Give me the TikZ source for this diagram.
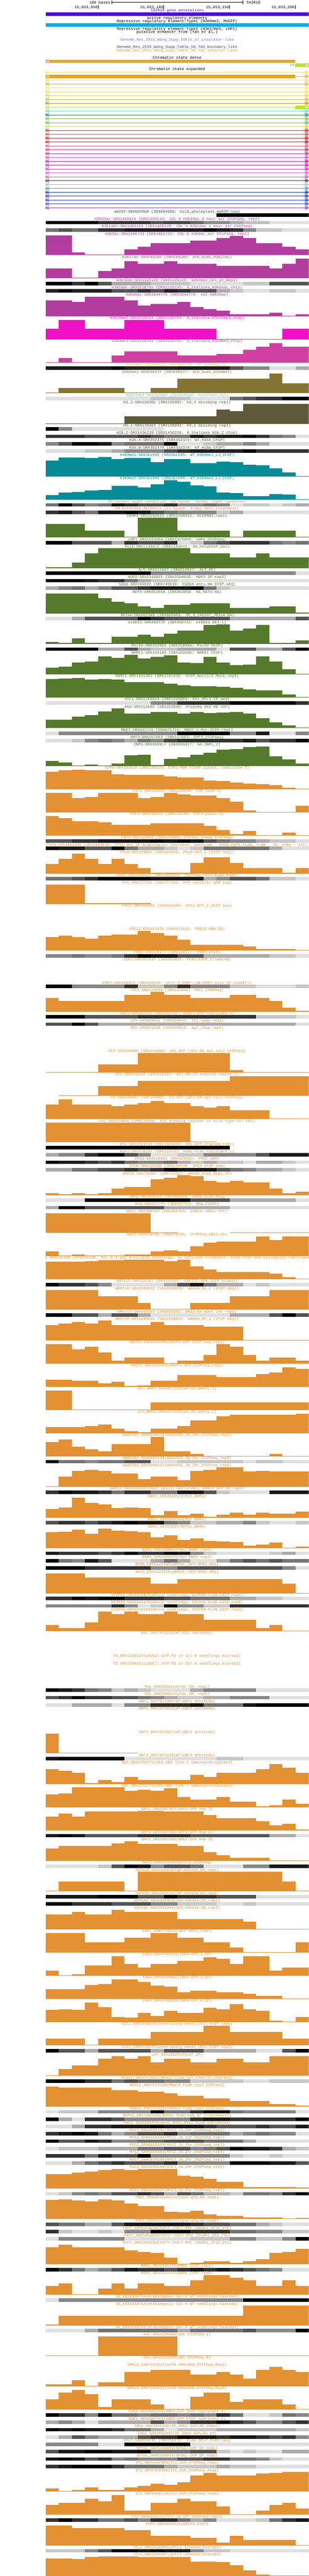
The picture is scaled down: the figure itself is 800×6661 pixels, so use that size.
\documentclass[tikz,border=0pt]{standalone}
\usepackage{fontspec}
\usepackage{xcolor}
\newfontfamily\trackfont{Liberation Mono}
\newcommand\lblfont{\trackfont\fontsize{5}{6}\selectfont}
\definecolor{tairc}{HTML}{4B0BDB}
\definecolor{regc}{HTML}{00AEEF}
\definecolor{insc}{HTML}{7B6CF0}
\definecolor{tadbc}{HTML}{483D8B}
\definecolor{tadic}{HTML}{DAA520}
\definecolor{csorange}{HTML}{E9A618}
\definecolor{csgreen}{HTML}{C0E02A}
\definecolor{cslbl}{HTML}{8FA010}
\definecolor{mdc}{HTML}{36524A}
\definecolor{acc}{HTML}{B33D9F}
\definecolor{k36c}{HTML}{F010C8}
\definecolor{k4c}{HTML}{D040A0}
\definecolor{k4me2c}{HTML}{D8D830}
\definecolor{k4me1c}{HTML}{857535}
\definecolor{k27c}{HTML}{80C8C0}
\definecolor{h3c}{HTML}{5F5A3A}
\definecolor{k9c}{HTML}{058C96}
\definecolor{dhc}{HTML}{FF7F50}
\definecolor{tfgc}{HTML}{567A2B}
\definecolor{tfoc}{HTML}{E39132}
\tikzset{
  lbl/.style={font=\lblfont, inner sep=0pt, anchor=base},
  every picture/.style={x=0.5pt, y=-0.5pt, line width=0.5pt}
}
\newcount\trkno
\def\trky{547}
\newcommand\dtrack[3]{%
  \global\advance\trkno by 1
  \node[lbl,text=#2] (trk\the\trkno) at (459,{\trky+3.5}) {#1};
  \foreach \v [count=\i from 0] in {#3}{%
    \ifnum\v>0 \fill[black!\v] ({118+\i*34.1},{\trky+5}) rectangle ({118+(\i+1)*34.1},{\trky+14});\fi
  }%
  \pgfmathsetmacro\nexty{\trky+19}\xdef\trky{\nexty}%
}
\newcommand\gtrack[3]{%
  \global\advance\trkno by 1
  \node[lbl,text=#2] (trk\the\trkno) at (459,{\trky+3.5}) {#1};
  \foreach \v [count=\i from 0] in {#3}{%
    \ifnum\v>0 \fill[#2] ({118+\i*34.1},{\trky+56}) rectangle ({118+(\i+1)*34.1},{\trky+56-0.51*\v});\fi
  }%
  \pgfmathsetmacro\nexty{\trky+60}\xdef\trky{\nexty}%
}
\begin{document}
\begin{tikzpicture}
\useasboundingbox (0,0) rectangle (800,6661);
\fill[white] (0,0) rectangle (800,6661);
\begin{scope}
\clip (118,0) rectangle (800,6661);
\node[lbl,anchor=base east] (scalelbl) at (286,9.5) {100 bases};
\draw (289,6) -- (629,6);
\draw (289,1) -- (289,11);
\draw (629,1) -- (629,11);
\node[lbl,anchor=base west] (asm) at (638,9.5) {TAIR10};
\foreach \p/\x in {050/254.4, 100/424.5, 150/595.1, 200/764.7}{
  \node[lbl,anchor=base east] (pos\p) at (\x-1,21.5) {15,653,\p};
  \draw (\x,13) -- (\x,23);
}
\node[lbl,text=tairc] (tairlbl) at (459,30.5) {TAIR10 gene annotations};
\fill[tairc] (118,32) rectangle (800,41);
\node[lbl] (actlbl) at (459,49.5) {active regulatory elements};
\node[lbl] (rep1lbl) at (459,58.5) {Repressive regulatory element-Type1 (H3K9me2, MeDIP)};
\fill[regc] (118,60) rectangle (800,69);
\node[lbl] (rep2lbl) at (459,77.5) {Repressive regulatory element-Type2 (H3K27me3, LHP1)};
\node[lbl] (enhlbl) at (459,86.5) {putative enhancer from (Yan et al.)};
\node[lbl,text=insc] (s7lbl) at (459,105.5) {Genome\_Res\_2015\_Wang\_Supp\_Table\_S7\_insulator-like};
\node[lbl,text=tadbc] (s8lbl) at (459,124.5) {Genome\_Res\_2015\_Wang\_Supp\_Table\_S8\_TAD\_boundary\_like};
\node[lbl,text=tadic] (s9lbl) at (459,133.5) {Genome\_Res\_2015\_Wang\_Supp\_Table\_S9\_TAD\_interior\_like};
\node[lbl] (denselbl) at (459,152.5) {Chromatin state dense};
\fill[csorange] (118,154) rectangle (765,163);
\fill[white] (124,156) -- (120.5,158.5) -- (124,161) -- cycle;
\fill[white] (127.5,156) -- (124,158.5) -- (127.5,161) -- cycle;
\node[lbl,anchor=base east,text=cslbl] (statelbl) at (763,171.5) {10};
\fill[csgreen] (765,164) rectangle (800,173);
\fill[white] (791,166) -- (794.5,168.5) -- (791,171) -- cycle;
\fill[white] (794.5,166) -- (798,168.5) -- (794.5,171) -- cycle;
\node[lbl] (explbl) at (459,181.5) {Chromatin state expanded};
\foreach \hx [count=\k from 0] in {EEE844,E9A618,F0E050,C8B42C,F4F030,F0DC58,DCDC28,D2B03C,B8901C,C4E034,50F0C8,008C64,78C040,48C050,D4E028,F01818,F03838,E00818,D01028,F05080,C03050,B03080,E040C0,D000A0,D010D0,E020E0,EC50F0,C050D0,404040,B0B0B0,20A0E0,0030B0,1030C8,1040D8,4040E0,8040E8}{
  \edef\tmp{\noexpand\definecolor{rowc}{HTML}{\hx}}\tmp
  \pgfmathsetmacro\ry{187+10*\k}
  \draw[rowc] (118,\ry) -- (800,\ry);
  \draw[rowc] (118.5,\ry-4) -- (118.5,\ry+4) (123,\ry-4) -- (119,\ry) -- (123,\ry+4) (127,\ry-4) -- (123,\ry) -- (127,\ry+4);
  \draw[rowc] (791,\ry-4) -- (795,\ry) -- (791,\ry+4) -- cycle (795,\ry-4) -- (799,\ry) -- (795,\ry+4) -- cycle;
}
\fill[csorange] (118,193) rectangle (765,202);
\fill[white] (124,195) -- (120.5,197.5) -- (124,200) -- cycle;
\fill[white] (127.5,195) -- (124,197.5) -- (127.5,200) -- cycle;
\fill[csgreen] (765,273) rectangle (800,282);
\fill[white] (791,275) -- (794.5,277.5) -- (791,280) -- cycle;
\fill[white] (794.5,275) -- (798,277.5) -- (794.5,280) -- cycle;
\dtrack{meDIP-SRX004968 (SRX004968: Col0\_wholeplant\_meDIP-seq)}{mdc}{0,0,0,0,0,0,0,0,0,0,0,0,0,100,100,100,100,100,100,100}
\dtrack{H3K23ac-SRX1469144 (SRX1469144: COL-0 H3K23ac 4 hour air ChIPseq, rep2)}{acc}{100,100,100,100,80,80,80,80,67,73,73,60,45,45,33,25,25,12,12,12}
\dtrack{H3K14ac-SRX1469119 (SRX1469119: COL-0 H3K14ac 4 hour air ChIPseq)}{acc}{55,67,55,55,80,80,87,87,87,87,87,87,100,87,80,47,22,22,12,12}
\gtrack{H3K9ac-SRX1466723 (SRX1466723: COL-0 H3K9ac air ChIPseq, rep1)}{acc}{100,100,15,3,3,3,29,43,60,60,60,73,73,87,98,87,60,60,43,29}
\gtrack{H3K27ac-SRX648280 (SRX648280: Ath\_buds\_H3K27ac)}{acc}{50,50,4,4,39,50,88,75,75,88,75,75,75,63,63,63,63,50,75,100}
\dtrack{H3K36ac-SRX1426149 (SRX1426149: H3K36ac\_Col\_wt\_Rep1)}{acc}{100,100,80,100,67,33,33,33,22,22,22,12,12,12,12,22,22,67,67,67}
\dtrack{H3K56ac-SRX1518745 (SRX1518745: A\_thaliana\_H3K56ac\_chip)}{acc}{87,100,87,87,87,67,67,80,67,87,80,67,67,33,22,12,12,22,22,12}
\gtrack{H4K16ac-SRX1044778 (SRX1044778: Col-H4K16ac)}{acc}{82,82,72,100,100,100,82,54,64,64,72,46,37,28,10,10,10,18,4,10}
\gtrack{H3K36me3-SRX1518744 (SRX1518744: A\_thaliana\_H3K36me3\_chip)}{k36c}{55,100,100,55,55,55,100,100,100,55,55,55,55,4,4,4,4,4,55,55}
\gtrack{H3K4me3-SRX1518741 (SRX1518741: A\_thaliana\_H3K4me3\_chip)}{k4c}{4,23,4,4,4,36,57,57,57,57,36,36,36,46,46,66,80,100,80,80}
\dtrack{H3K4me2-DRX066756 (DRX066756: WT\_H3K4me2\_1)}{k4me2c}{90,90,90,90,90,100,87,87,87,87,90,90,90,90,67,47,47,12,12,33}
\gtrack{H3K4me1-SRX648277 (SRX648277: Ath\_buds\_H3K4me1)}{k4me1c}{4,26,26,26,26,26,4,4,26,26,75,75,75,75,75,75,75,100,52,52}
\dtrack{H3K27me3-SRX853860 (SRX853860: H3K27me3\_Col)}{k27c}{12,12,12,12,12,12,12,12,22,22,22,12,12,12,55,67,80,80,100,100}
\gtrack{H3.3-SRX130301 (SRX130301: H3.3 dividing rep1)}{h3c}{3,3,3,3,3,3,38,38,38,38,38,38,38,73,64,100,100,100,100,100}
\dtrack{H3.1-SRX130303 (SRX130303: H3.1 dividing rep1)}{h3c}{100,47,12,12,12,12,12,12,12,0,0,0,0,0,0,0,0,0,0,0}
\dtrack{H2A.Z-SRX1436239 (SRX1436239: A\_thaliana\_H2A.Z\_chip)}{h3c}{80,80,80,67,67,67,67,80,67,55,55,90,80,90,90,100,80,55,47,12}
\dtrack{H2A.X-SRX352375 (SRX352375: WT\_H2AX\_ChIP)}{h3c}{47,67,100,100,90,47,55,55,55,100,12,12,22,33,33,47,33,12,12,12}
\dtrack{H2A.W-SRX352374 (SRX352374: WT\_H2AW\_ChIP)}{h3c}{12,12,12,22,22,33,47,47,47,67,80,87,87,87,87,100,80,80,80,80}
\gtrack{H3K9me1-SRX361945 (SRX361945: WT\_H3K9me1\_LJ\_ChIP)}{k9c}{81,96,96,94,100,89,94,94,73,89,89,68,68,76,73,60,58,42,21,3}
\gtrack{H3K9me2-SRX361946 (SRX361946: WT\_H3K9me2\_LJ\_ChIP)}{k9c}{22,35,38,46,49,69,71,63,77,100,91,74,67,37,33,19,19,29,27,3}
\dtrack{DH-normal\_light\_condition (in house: normal light conditon)}{dhc}{55,100,67,47,55,90,80,67,67,80,47,47,55,47,12,22,22,12,22,33}
\dtrack{DH-extended\_darkness (in house: 3-day dark treatment)}{dhc}{80,90,67,55,90,90,100,90,67,55,47,47,47,22,33,12,12,12,12,12}
\gtrack{CENH3-SRX2250913 (SRX2250913: AtCENH3\_rep1)}{tfgc}{68,68,68,34,34,34,4,100,100,100,34,34,34,34,4,34,34,34,34,3}
\dtrack{LHP1-SRX1519404 (SRX1519404: LHP1 ChIPseq)}{tfgc}{100,100,67,67,67,33,80,67,67,80,12,22,55,67,80,80,80,55,47,55}
\gtrack{Pol2-SRX1142672 (SRX1142672: 30\_Pol2ChIP\_Col)}{tfgc}{4,4,27,76,100,100,100,100,100,100,100,76,76,76,53,53,76,53,53,53}
\dtrack{AL5-SRX515067 (SRX515067: AL5\_OE)}{tfgc}{100,100,100,100,100,100,100,100,47,47,47,47,47,47,47,47,47,47,47,12}
\dtrack{HDP2-SRX2310526 (SRX2310526: HDP2 IP rep2)}{tfgc}{100,100,100,90,80,80,55,33,22,22,12,12,12,12,12,12,12,12,12,12}
\dtrack{SDG8-SRX749018 (SRX749018: hSDG8 anti-HA ChIP-seq)}{tfgc}{33,47,55,33,47,67,67,80,90,90,90,100,55,22,12,12,12,12,12,12}
\gtrack{REF6-SRX853858 (SRX853858: HA\_REF6-HA)}{tfgc}{100,100,100,100,76,60,52,35,27,44,44,52,52,52,27,27,27,35,35,3}
\dtrack{JMJ14-SRX669383 (SRX669383: ZC\_3\_140207\_JMJ14-HA)}{tfgc}{12,12,33,67,67,67,67,100,80,67,67,67,67,67,33,33,33,33,33,67}
\gtrack{AtDEK3-SRX488722 (SRX488722: AtDEK3 OE3-1)}{tfgc}{9,4,27,4,4,35,35,47,35,52,68,68,95,100,68,79,95,4,4,17}
\dtrack{PolIV-SRX252954 (SRX252954: PolIV ChIP)}{tfgc}{100,100,100,100,33,33,67,33,22,22,33,33,33,12,67,67,33,33,67,100}
\gtrack{NRPE1-SRX159106 (SRX159106: NRPE1 ChIP)}{tfgc}{35,39,60,65,92,84,100,81,88,96,60,57,88,60,47,50,92,65,27,3}
\gtrack{MORC1-SRX1161363 (SRX1161358: ChIP\_morc1/2\_Mock\_rep3)}{tfgc}{95,98,100,93,95,91,79,79,78,70,62,57,58,54,49,41,38,38,17,3}
\dtrack{HYL1-SRX1268024 (SRX1268024: Col\_HYL1\_IP\_seq)}{tfgc}{12,12,12,12,12,12,12,12,47,47,80,80,80,80,100,100,100,100,100,80}
\gtrack{AN3-SRX212080 (SRX212080: Chipseq AN3 HB TAP)}{tfgc}{44,42,60,66,84,100,74,74,81,81,74,81,76,80,81,74,50,31,15,4}
\dtrack{MBD7-SRX621716 (SRX621716: MBD7-5-Myc-ChIP-rep1)}{tfgc}{12,47,47,47,47,47,47,47,47,47,100,100,100,100,47,47,90,12,12,47}
\dtrack{CMT3-SRX157663 (SRX157663: CMT3\_ChIPseq)}{tfgc}{12,12,22,47,55,47,33,55,47,72,80,80,80,80,80,90,67,80,80,100}
\gtrack{IBM1-DRX066817 (DRX066817: HA-IBM1\_2)}{tfgc}{27,19,3,9,3,12,55,58,6,37,44,58,68,84,87,98,100,50,35,13}
\gtrack{E2Fa-SRX333416 (SRX333416: E2Fa-HBH TChAP output, replicate 2)}{tfoc}{88,96,100,98,98,76,74,74,74,66,60,60,44,42,33,28,27,20,7,3}
\gtrack{PIF3-SRX159028 (SRX159028: P3M-ChIP-3)}{tfoc}{100,100,73,79,100,100,100,73,79,100,92,87,87,73,55,12,4,4,4,33}
\gtrack{PIF4-SRX214150 (SRX214150: PIF4-peaks-3)}{tfoc}{100,88,74,74,68,54,54,54,62,62,62,62,49,28,9,23,3,3,15,3}
\dtrack{PIF5-SRX115869 (SRX115869: PIF5ox shade ChIPSeq)}{tfoc}{67,67,80,80,90,90,90,90,100,90,100,90,67,55,47,47,33,22,22,12}
\dtrack{PHYB-SRX2083648 (SRX2083648: ChIP-Seq of Arabidopsis thaliana: genotype - PHYB:PHYB-FLAG, time - 10, temp - 17C)}{tfoc}{100,90,90,67,67,100,55,33,33,22,12,22,55,55,55,55,55,33,12,12}
\gtrack{PhyA-SRX320094 (SRX320094: PhyA-GFP\_1 [ChIP-seq])}{tfoc}{49,74,100,74,49,74,49,29,4,4,4,55,82,82,55,29,29,29,4,29}
\dtrack{CRY2-SRX1005826 (SRX1005826: ChIPSeq-CRY2\_FLAG\_Rep1)}{tfoc}{55,55,67,80,100,100,100,100,90,90,90,90,33,47,67,67,55,22,22,12}
\gtrack{HY5-SRX727353 (SRX727353: HY5 specific gDB-seq)}{tfoc}{100,100,100,4,4,4,4,4,0,0,0,0,0,0,0,0,0,0,0,0}
\gtrack{FHY1-SRX555090 (SRX555090: FHY1-GFP\_2\_ChIP-seq)}{tfoc}{0}
\gtrack{FRS12-ERX611626 (ERX611626: FRS12\_HBH\_N2)}{tfoc}{69,75,69,61,75,82,82,100,88,75,55,29,29,29,29,21,9,9,9,4}
\dtrack{PRR5-SRX128177 (SRX128177: PRR5-ChIP)}{tfoc}{47,47,55,47,47,55,80,100,90,90,67,67,33,33,33,33,33,22,22,12}
\gtrack{CCA1-SRX997425 (SRX997425: CCA1-ChIP\_Illumina)}{tfoc}{0}
\dtrack{PRR7-SRX328353 (SRX328353: prr7-3 PRR7::HA-PRR7 \#151 IP (ExpII))}{tfoc}{100,100,47,47,47,47,80,22,22,47,80,47,47,47,22,22,12,12,12,22}
\gtrack{TOC1-SRX121040 (SRX121040: TOC1\_ChIPSeq)}{tfoc}{69,53,53,53,53,53,85,85,100,85,85,69,69,69,85,85,69,53,19,4}
\dtrack{SOC1-SRX262132 (SRX262132: gSOC1-GFP replicate 3)}{tfoc}{100,100,100,67,67,67,67,80,80,80,80,80,80,80,80,80,22,22,22,12}
\dtrack{LFY-SRX029442 (SRX029442: lfy-samp-rep2)}{tfoc}{67,67,100,67,33,33,33,33,33,33,33,33,33,33,33,33,33,33,33,12}
\gtrack{AP2-SRX019319 (SRX019319: ap2\_chip\_rep2)}{tfoc}{0}
\gtrack{AP3-SRX150808 (SRX150808: AP3-GFP (AP1-GR ap1 cal) ChIPseq)}{tfoc}{3,3,3,3,43,43,43,100,100,100,100,100,100,100,15,3,3,3,3,3}
\gtrack{AP1-SRX018392 (SRX018392: AP1-GR\_2h\_induced\_sample\_1)}{tfoc}{0,4,4,4,50,50,50,76,76,76,76,76,76,76,100,100,100,100,100,100}
\gtrack{PI-SRX150807 (SRX150807: PI-GFP (AP1-GR ap1 cal) ChIPseq)}{tfoc}{73,100,73,73,73,65,73,82,92,82,82,65,58,65,46,46,46,3,3,3}
\gtrack{FLC-SRX039006 (SRX039006: FLC binding regions in wild type Col FRI)}{tfoc}{100,100,100,100,100,100,100,100,100,100,100,4,4,0,0,0,0,0,0,0}
\dtrack{RPL-SRX1603698 (SRX1603698: RPL-GFP\_chipseq\_rep1)}{tfoc}{100,100,100,100,100,100,100,100,100,100,100,100,100,100,0,0,0,0,0,0}
\dtrack{KAN1-SRX310193 (SRX310193: KAN1-FLAG replicate 1)}{tfoc}{33,47,47,80,100,100,67,47,12,12,22,22,47,47,47,47,67,90,90,90}
\dtrack{PPD2-ERX620625 (ERX620625: PPD2\_HBH)}{tfoc}{100,90,90,80,67,80,55,47,47,55,33,22,33,22,22,12,33,33,22,12}
\dtrack{SPCH-SRX539638 (SRX539638: SPCH ChIP-Seq)}{tfoc}{33,33,55,55,67,67,80,67,80,100,90,90,90,67,55,47,33,33,22,12}
\gtrack{ARR10-SRX732967 (SRX732967: ARR10\_Exp1\_Rep1\_IP)}{tfoc}{9,3,9,3,9,33,41,41,79,87,100,95,71,63,71,63,63,33,9,17}
\dtrack{ARF6-SRX368984 (SRX368984: ARF6 ChIP-Seq)}{tfoc}{12,12,12,100,100,100,100,100,100,100,100,67,67,67,33,33,33,33,33,12}
\dtrack{RGA-SRX647775 (SRX647775: RGA\_ChIP2)}{tfoc}{33,100,100,67,67,67,67,67,67,33,33,33,33,33,12,12,12,12,12,12}
\gtrack{HBI1-SRX388754 (SRX388754: pHBI1::HBI1-YFP)}{tfoc}{100,100,100,100,100,100,100,100,3,3,0,0,0,0,3,3,3,3,3,3}
\gtrack{ABI5-SRX670505 (SRX670505: ChIPSeq-ABI5\_Ab)}{tfoc}{23,3,8,3,3,3,8,8,23,28,23,49,69,74,74,74,100,81,100,100}
\gtrack{EIN3-SRX215430 (SRX215430: Col-0 3-day etiolated seedlings, no ethylene treatment, EIN3 ChIP-Seq biological replicate 1)}{tfoc}{88,88,88,92,96,96,100,100,100,92,100,66,49,36,36,36,36,28,11,3}
\dtrack{ERF115-SRX320167 (SRX320167: ERF115-HBH ChIP output)}{tfoc}{100,80,80,67,47,12,12,12,12,33,67,90,55,33,33,12,22,12,12,12}
\gtrack{WRKY18-SRX2039032 (SRX2039032: W18HA\_0h\_2 (ChIP-Seq))}{tfoc}{100,100,100,100,68,68,68,35,4,4,4,35,35,35,68,68,68,100,100,100}
\dtrack{WRKY33-SRX890383 (SRX890383: WK33-HA mock 14h rep1)}{tfoc}{100,100,67,67,33,67,67,33,12,12,12,12,12,12,33,33,33,67,100,67}
\gtrack{WRKY40-SRX2039026 (SRX2039026: W40HA\_0h\_1 (ChIP-Seq))}{tfoc}{78,86,94,86,100,78,78,78,94,78,78,78,70,70,70,3,3,3,3,3}
\gtrack{ADCP1-SRX4503490(ADCP1-GFP ChIP-seq\_rep1)}{tfoc}{100,100,72,86,58,16,30,30,30,3,16,16,44,100,86,44,16,30,30,16}
\gtrack{ADCP1\_SRX4503492(ADCP1-GFP\_ChIPseq\_rep2)}{tfoc}{36,36,31,31,19,25,4,7,31,31,60,60,60,49,49,49,66,73,100,90}
\gtrack{all\_WRKY\_SRX3557820(wt\_0h\_aWrky\_1)}{tfoc}{100,100,3,3,3,3,3,3,38,38,38,38,38,38,38,38,38,38,38,38}
\gtrack{all\_WRKY\_SRX3557828(wt\_0h\_aWrky\_2)}{tfoc}{31,31,31,37,45,23,9,4,23,23,37,66,66,87,95,95,95,95,95,100}
\gtrack{ANAC055\_SRX6460113(ANAC055\_JA\_2hr\_ChIPseq\_rep1)}{tfoc}{74,86,50,36,25,62,62,62,100,25,25,12,3,3,3,3,3,12,3,3}
\dtrack{ANAC055\_SRX6460114(ANAC055\_JA\_2hr\_ChIPseq\_rep2)}{tfoc}{100,55,55,47,55,55,67,67,12,12,22,22,22,22,22,12,22,22,12,12}
\gtrack{ANAC055\_SRX6460115(ANAC055\_JA\_2hr\_ChIPseq\_rep3)}{tfoc}{3,53,82,88,82,68,68,41,53,53,35,82,88,100,100,78,82,78,78,78}
\dtrack{ARR12\_SRX6490939(Root apical meristems, ARR12-GFP\_IP\_rep2)}{tfoc}{80,100,90,90,80,55,80,80,55,55,90,90,67,22,12,12,12,90,90,90}
\gtrack{BDR1\_SRX3928572(Myc\_BDR1)}{tfoc}{44,50,100,74,66,49,50,49,12,33,12,20,3,15,25,15,25,19,19,31}
\dtrack{BDR1\_SRX5900593(Myc BDR1)}{tfoc}{67,80,80,67,80,90,100,90,90,55,47,22,22,33,33,47,22,12,12,22}
\gtrack{BDR2\_SRX3928574(Myc\_BDR2)}{tfoc}{80,84,94,74,100,88,86,80,55,65,42,50,36,33,31,13,19,28,3,7}
\dtrack{BDR3\_SRX5900594(Myc BDR3 rep1)}{tfoc}{90,80,80,80,67,80,100,80,80,100,90,47,22,12,12,12,12,22,33,12}
\dtrack{BDR3\_SRX5900595(Myc BDR3 rep2)}{tfoc}{100,55,47,90,67,12,12,12,33,55,33,12,12,33,55,67,55,67,55,55}
\dtrack{BPC6\_ERX2223705(pBPC6::GFP:BPC6-BR1)}{tfoc}{100,100,100,80,80,80,80,80,47,47,67,67,67,67,67,67,67,67,47,12}
\gtrack{BPC6\_ERX2223706(pBPC6::GFP:BPC6-BR1)}{tfoc}{100,100,100,81,81,81,81,81,50,50,73,73,73,73,73,73,73,73,50,3}
\dtrack{bZIP68\_SRX6410178(Whole seedlings, bZIP68-FLAG.CHIP.rep1)}{tfoc}{80,80,100,90,100,100,80,80,80,67,67,55,55,55,33,33,22,22,12,12}
\dtrack{bZIP68\_SRX6410179(Whole seedlings, bZIP68-FLAG.CHIP.rep2)}{tfoc}{47,47,47,47,47,80,47,12,22,100,47,47,22,22,80,80,80,80,80,80}
\gtrack{bZIP68\_SRX6410180(Whole seedlings, bZIP68-FLAG.CHIP.rep3)}{tfoc}{31,15,15,45,100,87,100,87,87,100,87,87,58,58,58,58,15,31,4,4}
\gtrack{EEL\_SRX7873339(WT:EEL antibody)}{tfoc}{0}
\dtrack{FD\_ERX2338310(pSUC2::GFP:FD in Col-0 seedlings biorep1)}{tfoc}{0}
\gtrack{FD\_ERX2338311(pSUC2::GFP:FD in Col-0 seedlings biorep2)}{tfoc}{0}
\dtrack{FUL\_SRX3505414(FUL IM, rep1)}{tfoc}{100,90,80,55,47,22,33,22,12,12,12,33,47,47,47,47,12,12,12,12}
\dtrack{FUL\_SRX3505415(FUL IM, rep2)}{tfoc}{67,80,100,80,80,67,67,55,47,33,22,22,33,33,47,47,47,12,12,12}
\dtrack{GBF1\_SRX7873305(WT:GBF1 antibody)}{tfoc}{12,12,33,33,33,12,47,47,80,80,80,90,55,55,55,90,100,100,100,100}
\gtrack{GBF2\_SRX7873316(WT:GBF2 antibody)}{tfoc}{0}
\gtrack{GBF3\_SRX7873327(WT:GBF3 antibody)}{tfoc}{100,3,3,3,3,3,3,0,0,0,0,0,0,0,0,0,0,0,0,0}
\dtrack{GBF4\_SRX7873338(WT:GBF4 antibody)}{tfoc}{90,100,100,100,100,100,12,12,12,12,12,12,12,22,22,12,12,12,12,12}
\gtrack{GNC\_SRX3739773(35S:GNC line 2 immunoprecipitate)}{tfoc}{74,66,56,4,19,11,36,19,19,19,19,46,36,56,56,56,74,100,82,56}
\gtrack{GNC\_SRX3739775(35S:GNC line 1 immunoprecipitate)}{tfoc}{65,71,100,100,100,100,84,88,84,95,51,39,39,51,27,27,4,10,39,19}
\gtrack{GRF1\_SRX5507863(GRF1-GFP Rep 3)}{tfoc}{71,87,71,95,95,95,95,100,100,95,95,95,79,63,63,63,47,25,33,4}
\dtrack{GRF3\_SRX5507865(GRF3-GFP Rep 2)}{tfoc}{90,100,90,67,67,67,67,80,80,80,80,67,67,67,67,67,67,33,33,12}
\gtrack{GRF3\_SRX5507866(GRF3-GFP Rep 3)}{tfoc}{62,76,76,76,76,89,100,86,86,86,76,76,46,30,16,16,16,3,3,3}
\dtrack{HAT3\_SRX875470(HAT3-1\_ChIPSeq)}{tfoc}{12,12,12,12,22,67,100,90,47,67,67,55,12,12,12,47,47,90,90,90}
\gtrack{HSFA1b\_SRX2024335(NP:HSFA1b\_NS\_rep1)}{tfoc}{3,52,52,52,52,52,3,100,100,100,100,100,100,100,100,100,100,100,52,3}
\dtrack{HSFA1b\_SRX2024336(NP:HSFA1b\_NS\_rep2)}{tfoc}{90,90,90,90,100,100,100,67,67,100,80,80,80,67,67,67,12,12,12,12}
\dtrack{HSFA1b\_SRX2024343(35S:HSFA1b\_NS\_rep1)}{tfoc}{100,100,80,80,80,67,67,67,47,47,22,22,22,12,12,22,12,12,12,12}
\gtrack{HSFA1b\_SRX2024344(35S:HSFA1b\_NS\_rep2)}{tfoc}{76,76,88,76,76,100,88,88,88,88,52,52,52,52,52,39,3,3,3,3}
\gtrack{ICE1\_SRX7719242(GFP-ICE1\_ChIP)}{tfoc}{100,100,100,52,52,52,76,76,100,100,76,76,52,52,27,3,3,3,3,52}
\gtrack{IDD4\_SRX4705001(IDD4-GFP\_1\_IP)}{tfoc}{27,4,9,53,53,100,60,42,60,60,76,76,95,87,60,100,100,27,42,42}
\gtrack{IDD4\_SRX4705002(IDD4-GFP\_3\_IP)}{tfoc}{50,50,50,70,76,100,100,86,68,62,35,41,41,35,35,27,17,17,3,3}
\gtrack{IDD4\_SRX4705003(IDD4-GFP\_4\_IP)}{tfoc}{63,66,63,100,77,27,23,47,33,57,47,47,73,66,93,66,57,7,4,27}
\gtrack{LEC1\_SRX3638219(developing seeds\_LEC1\_ChIP rep1)}{tfoc}{35,35,35,3,35,35,35,35,68,68,68,68,100,100,68,68,68,68,35,35}
\dtrack{LEC1\_SRX3638221(developing seeds\_LEC1\_ChIP rep2)}{tfoc}{100,67,67,33,67,67,67,67,33,67,67,67,33,33,33,33,12,12,67,100}
\gtrack{LHY\_SRX3182010(LHY\_IP)}{tfoc}{4,35,54,54,88,100,88,100,70,88,88,70,70,88,88,70,70,100,100,100}
\dtrack{MED12\_SRX7573312(MED12-FLAG\_col\_control\_ChIPseq)}{tfoc}{100,100,100,80,80,55,67,55,55,47,47,22,22,22,22,12,12,22,22,22}
\gtrack{MED12\_SRX7573320(MED12-FLAG\_rep1\_ChIPseq)}{tfoc}{100,95,95,95,95,84,84,76,76,68,53,53,42,42,27,27,27,12,12,4}
\dtrack{MED12\_SRX7573322(MED12-FLAG\_rep2\_ChIPseq)}{tfoc}{12,22,22,22,47,47,47,47,100,55,55,80,100,100,55,47,47,47,47,12}
\dtrack{MED25\_SRX7445540(med25 ChIP-seq of arabidopsis)}{tfoc}{100,33,12,80,80,67,47,47,47,47,47,80,90,90,80,80,80,80,80,100}
\dtrack{MYC2\_SRX5982476(myc2\_MYC2:MYC2\_FLAG\_untreated)}{tfoc}{12,12,33,80,80,90,90,90,100,90,90,90,80,67,67,67,80,67,67,90}
\dtrack{MYC2\_SRX6460101(MYC2\_JA\_2hr\_ChIPseq\_rep1)}{tfoc}{80,90,100,90,55,33,47,67,67,80,47,55,55,55,33,47,55,47,47,12}
\dtrack{MYC2\_SRX6460102(MYC2\_JA\_2hr\_ChIPseq\_rep2)}{tfoc}{100,67,67,90,80,47,47,55,55,67,67,67,55,55,55,33,12,12,12,12}
\dtrack{MYC2\_SRX6460103(MYC2\_JA\_2hr\_ChIPseq\_rep3)}{tfoc}{12,22,22,22,33,33,33,55,55,67,67,47,55,67,100,90,90,80,33,22}
\dtrack{MYC2\_SRX6460104(MYC2\_JA\_2hr\_ChIPseq\_rep4)}{tfoc}{80,80,80,55,90,67,67,100,47,47,47,47,47,47,22,12,12,22,12,12}
\dtrack{MYC3\_SRX6460105(MYC3\_JA\_2hr\_ChIPseq\_rep1)}{tfoc}{12,12,33,55,67,80,67,67,67,80,47,47,47,47,100,100,100,90,90,67}
\gtrack{MYC3\_SRX6460106(MYC3\_JA\_2hr\_ChIPseq\_rep2)}{tfoc}{73,74,81,85,93,100,93,100,100,100,66,61,50,33,33,7,7,7,7,4}
\dtrack{MYC3\_SRX6460107(MYC3\_JA\_2hr\_ChIPseq\_rep3)}{tfoc}{12,22,47,55,47,67,67,80,67,33,67,55,33,33,22,55,55,47,80,100}
\gtrack{PHE1\_SRX5676333(silique.gfp.wt\_rep1)}{tfoc}{98,100,95,90,100,95,79,66,66,37,35,43,24,17,15,8,8,8,4,7}
\dtrack{PHE1\_SRX5676335(silique.gfp.wt\_rep2)}{tfoc}{67,55,55,33,33,67,90,90,90,90,90,80,67,67,55,55,33,22,12,12}
\dtrack{PIF7\_SRX5454258(PIF7::PIF7-MYC (D108)\_ZT12\_27C)}{tfoc}{80,22,12,12,22,12,47,47,100,100,100,80,80,80,55,55,47,47,22,22}
\dtrack{PIF7\_SRX5454260(PIF7::PIF7-MYC (D108)\_ZT8\_27C)}{tfoc}{12,47,47,47,47,47,12,12,12,12,12,22,22,22,47,47,22,22,47,100}
\gtrack{PIF7\_SRX5454262(PIF7::PIF7-MYC (D108)\_ZT12\_27C)}{tfoc}{87,100,87,87,87,87,71,63,57,33,4,9,17,17,9,17,25,57,63,79}
\dtrack{RBR1\_SRX3531272(RBR1\_ChIP\_rep1)}{tfoc}{100,80,55,33,47,67,90,80,80,67,80,90,80,90,80,67,55,47,12,12}
\gtrack{RBR1\_SRX3531273(RBR1\_ChIP\_rep2)}{tfoc}{45,58,4,4,31,58,31,58,58,45,45,73,100,100,87,73,45,45,73,45}
\dtrack{SE\_ERX2858751(Arabidopsis Col-0 WT seedlings biorep1)}{tfoc}{12,47,47,47,47,47,47,47,47,47,47,47,47,47,47,100,100,100,100,100}
\gtrack{SE\_ERX2858752(Arabidopsis Col-0 WT seedlings biorep1)}{tfoc}{3,50,50,50,50,50,50,50,50,50,50,50,50,50,50,100,100,100,100,100}
\dtrack{SE\_ERX2858753(Arabidopsis Col-0 WT seedlings biorep1)}{tfoc}{12,12,12,33,55,55,55,55,55,55,33,55,55,55,55,67,47,47,47,100}
\gtrack{SHL\_SRX3226098(SHL ChIPSeq-1)}{tfoc}{3,3,3,3,100,100,100,100,100,100,3,3,3,3,3,3,3,3,3,3}
\dtrack{SHL\_SRX3226099(SHL ChIPSeq-2)}{tfoc}{0}
\gtrack{SMXL6\_SRX7187013(s678 SMXL6HA\_ChIPSeq\_Rep1)}{tfoc}{11,11,31,3,21,21,73,73,83,83,83,61,61,73,61,41,83,100,83,73}
\gtrack{SMXL6\_SRX7187015(s678 SMXL6HA\_ChIPSeq\_Rep2)}{tfoc}{53,88,100,78,15,53,53,53,27,3,3,65,88,88,41,53,53,53,27,3}
\dtrack{SOB3\_SRX5001348(SOB3-GFP ChIP replicate 1)}{tfoc}{100,80,80,47,100,55,55,47,55,55,47,55,47,80,55,12,12,22,55,47}
\dtrack{SOB3\_SRX5001349(SOB3-GFP ChIP replicate 2)}{tfoc}{33,47,33,12,33,33,33,33,67,33,47,80,80,100,80,67,47,47,67,80}
\dtrack{SOG1\_SRX3866936(IP\_SOG1-3xFLAG\_20min)}{tfoc}{100,90,100,90,90,80,55,55,33,12,22,22,22,33,33,33,33,33,33,22}
\dtrack{SOG1\_SRX3866937(IP\_SOG1-3xFLAG\_1h)}{tfoc}{12,33,67,47,33,33,33,67,80,80,100,90,90,80,90,90,80,67,80,47}
\dtrack{SPL7-SRX250135 (SRX250135: FLAG-SPL7 ChIP-seq)}{tfoc}{47,47,47,47,12,12,100,100,100,100,100,12,12,12,12,12,12,12,12,12}
\dtrack{SPT6L\_SRX5169086(SPT6L-GFP IP rep1)}{tfoc}{67,90,90,100,100,90,90,100,55,55,55,67,67,22,12,22,12,12,33,33}
\dtrack{SPT6L\_SRX5169087(SPT6L-GFP IP rep2)}{tfoc}{90,100,90,67,80,47,55,47,47,47,67,67,80,80,55,55,47,22,12,12}
\dtrack{STZ\_SRX6460108(STZ\_AIR\_ChIPseq\_rep1)}{tfoc}{80,90,100,100,100,80,55,55,55,33,22,22,22,33,22,22,12,12,12,12}
\gtrack{STZ\_SRX6460109(STZ\_AIR\_ChIPseq\_rep2)}{tfoc}{17,3,10,21,8,10,21,31,41,35,48,83,96,83,83,83,93,96,100,100}
\gtrack{STZ\_SRX6460110(STZ\_AIR\_ChIPseq\_rep3)}{tfoc}{50,60,60,82,70,100,23,23,60,60,82,70,70,43,3,3,23,50,60,33}
\dtrack{STZ\_SRX6460111(STZ\_JA\_2hr\_ChIPseq\_rep1)}{tfoc}{80,100,80,80,55,55,67,47,80,80,55,33,47,12,12,12,22,55,80,90}
\gtrack{TCP4\_SRX4168241(mTCP4\_ChIP)}{tfoc}{100,100,88,88,88,88,77,77,50,50,50,39,39,16,50,28,28,28,28,3}
\dtrack{TFL1\_ERX2826885(gTFL1-1xVenus\_biorep1)}{tfoc}{22,22,22,47,67,100,100,90,100,90,90,47,22,22,12,12,12,12,12,12}
\gtrack{TFL1\_ERX2826887(gTFL1-1xVenus\_biorep3)}{tfoc}{89,89,87,96,100,100,100,96,96,96,96,74,74,70,54,29,7,4,4,4}
\end{scope}
\end{tikzpicture}
\end{document}
